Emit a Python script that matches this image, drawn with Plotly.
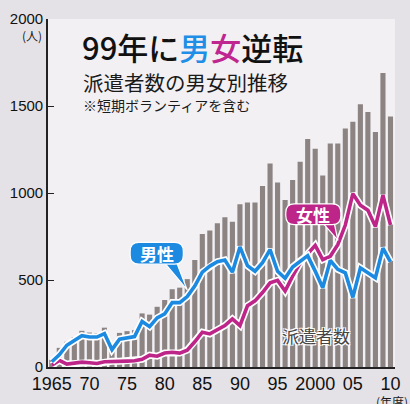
import plotly.graph_objects as go

years = list(range(1965, 2011))
total = [42, 110, 145, 172, 208, 198, 194, 226, 135, 196,
         206, 212, 308, 301, 346, 385, 447, 456, 505, 615,
         765, 785, 826, 860, 835, 935, 945, 945, 1040, 1170,
         1060, 960, 1075, 1180, 1310, 1255, 1100, 1285, 1285, 1370,
         1410, 1510, 1465, 1350, 1690, 1440]
men = [30, 70, 125, 150, 180, 172, 172, 192, 100, 160,
       170, 175, 262, 232, 282, 305, 370, 370, 405, 465,
       545, 580, 605, 615, 545, 690, 582, 550, 600, 675,
       550, 510, 575, 610, 640, 551, 456, 612, 561, 541,
       400, 570, 541, 513, 683, 604]
women = [10, 38, 17, 20, 28, 24, 20, 30, 33, 33,
         34, 36, 44, 68, 62, 80, 85, 80, 97, 145,
         200, 190, 214, 238, 276, 238, 352, 380, 428, 484,
         498, 437, 522, 598, 650, 699, 617, 636, 703, 816,
         996, 930, 901, 807, 987, 816]
tick_years = [1965, 1970, 1975, 1980, 1985, 1990, 1995, 2000, 2005, 2010]
tick_text = ["1965", "70", "75", "80", "85", "90", "95", "2000", "05", "10"]
y_ticks = [0, 500, 1000, 1500, 2000]

BLUE = "#1b8ae0"
MAG = "#bd2589"
W, H = 410, 404
L, R, T, B = 41, 400, 15, 367


def px(x):
    return (x - L) / (R - L)


def py(y):
    return (B - y) / (B - T)


def rbox(x0, y0, x1, y1, r):
    pts = [
        f"M{px(x0 + r)},{py(y0)}",
        f"L{px(x1 - r)},{py(y0)}",
        f"Q{px(x1)},{py(y0)} {px(x1)},{py(y0 + r)}",
        f"L{px(x1)},{py(y1 - r)}",
        f"Q{px(x1)},{py(y1)} {px(x1 - r)},{py(y1)}",
        f"L{px(x0 + r)},{py(y1)}",
        f"Q{px(x0)},{py(y1)} {px(x0)},{py(y1 - r)}",
        f"L{px(x0)},{py(y0 + r)}",
        f"Q{px(x0)},{py(y0)} {px(x0 + r)},{py(y0)}",
        "Z",
    ]
    return " ".join(pts)


def tri(a, b, c):
    return f"M{px(a[0])},{py(a[1])} L{px(b[0])},{py(b[1])} L{px(c[0])},{py(c[1])} Z"


fig = go.Figure()
fig.add_trace(go.Bar(x=years, y=total, marker=dict(color="#8c8383", line=dict(width=0)),
                     width=0.68, hoverinfo="skip"))
for ys, col in [(women, MAG), (men, BLUE)]:
    fig.add_trace(go.Scatter(x=years, y=ys, mode="lines", line=dict(color="white", width=7), hoverinfo="skip"))
    fig.add_trace(go.Scatter(x=years, y=ys, mode="lines", line=dict(color=col, width=3.6), hoverinfo="skip"))

shapes = [
    dict(type="path", xref="paper", yref="paper", path=tri((161, 261), (174, 261), (185, 289)),
         fillcolor=BLUE, line=dict(color="white", width=1.2), layer="above"),
    dict(type="path", xref="paper", yref="paper", path=rbox(126, 241, 181, 263, 9),
         fillcolor=BLUE, line=dict(color="white", width=1.2), layer="above"),
    dict(type="path", xref="paper", yref="paper", path=tri((325, 221), (337, 221), (341, 239)),
         fillcolor=MAG, line=dict(color="white", width=1.2), layer="above"),
    dict(type="path", xref="paper", yref="paper", path=rbox(287, 202, 344, 223, 9),
         fillcolor=MAG, line=dict(color="white", width=1.2), layer="above"),
]

JP = "Noto Sans CJK JP"
NUM = "Liberation Sans Narrow, Arial Narrow, Liberation Sans, Arial"
ann = [
    dict(x=px(74), y=py(43), xanchor="left", yanchor="middle",
         text="99年に<span style='color:#1e8ee6'>男</span><span style='color:#c0268f'>女</span>逆転",
         font=dict(family=JP, size=31, color="#111111", weight=500)),
    dict(x=px(75), y=py(79), xanchor="left", yanchor="middle", text="派遣者数の男女別推移",
         font=dict(family=JP, size=20.5, color="#1a1a1a")),
    dict(x=px(75), y=py(102), xanchor="left", yanchor="middle", text="※短期ボランティアを含む",
         font=dict(family=JP, size=14, color="#1a1a1a")),
    dict(x=px(24), y=py(32), xanchor="center", yanchor="middle", text="(人)",
         font=dict(family=JP, size=12, color="#1a1a1a")),
    dict(x=px(378), y=py(402), xanchor="left", yanchor="middle", text="(年度)",
         font=dict(family=JP, size=12, color="#1a1a1a")),
    dict(x=px(318), y=py(335), xanchor="center", yanchor="middle", text="派遣者数",
         font=dict(family=JP, size=17, color="#444444",
                   shadow="-1px -1px 0 #fff, 1px -1px 0 #fff, -1px 1px 0 #fff, 1px 1px 0 #fff, 0 0 2px #fff")),
    dict(x=px(153.5), y=py(252), xanchor="center", yanchor="middle", text="男性",
         font=dict(family=JP, size=17, color="white", weight=700)),
    dict(x=px(315.5), y=py(212.5), xanchor="center", yanchor="middle", text="女性",
         font=dict(family=JP, size=17, color="white", weight=700)),
]
for a in ann:
    a.update(xref="paper", yref="paper", showarrow=False)

fig.update_layout(
    width=W, height=H,
    margin=dict(l=L, r=W - R, t=T, b=H - B),
    paper_bgcolor="#e5e2e7",
    plot_bgcolor="#f2f0f3",
    showlegend=False,
    shapes=shapes,
    annotations=ann,
    xaxis=dict(range=[1964.5, 2010.6], tickvals=tick_years, ticktext=tick_text, ticks="",
               showgrid=False, zeroline=False, showline=True, linecolor="#222222", linewidth=1.6,
               tickfont=dict(family=NUM, size=18, color="#111111"), fixedrange=True),
    yaxis=dict(range=[0, 2000], tickvals=y_ticks, ticks="inside", ticklen=6, tickcolor="#222222",
               tickwidth=1.3, showgrid=False, zeroline=False, showline=True, linecolor="#222222",
               linewidth=1.6, tickfont=dict(family=NUM, size=15, color="#111111"), fixedrange=True),
)
fig.write_html("out.html")
